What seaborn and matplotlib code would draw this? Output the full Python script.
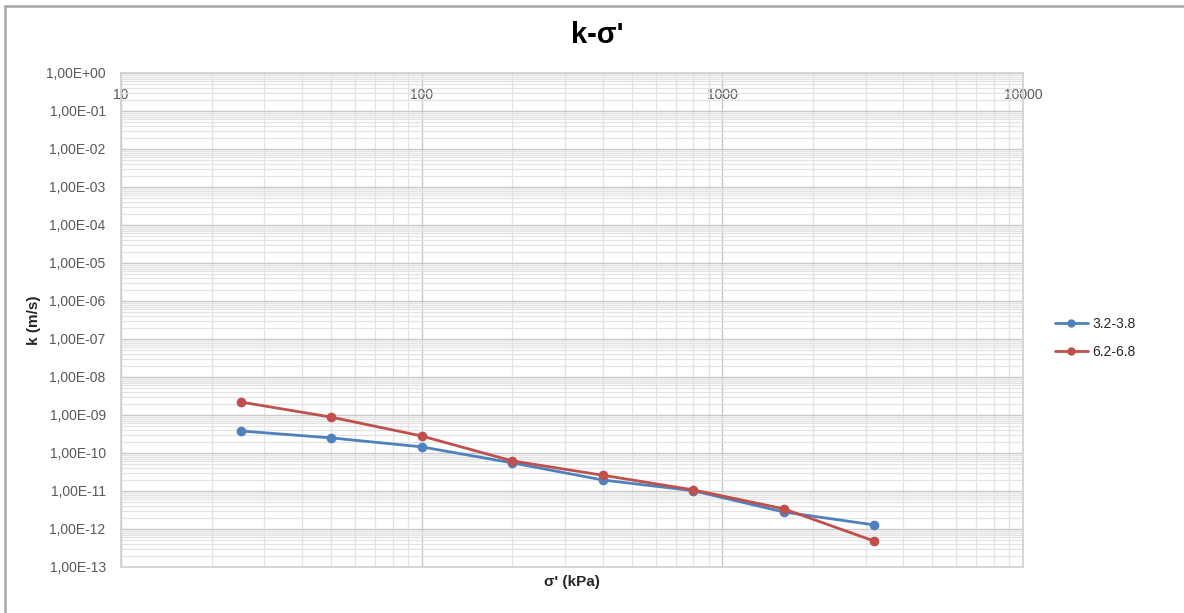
import numpy as np
import pandas as pd
import matplotlib
matplotlib.use("Agg")
import matplotlib.pyplot as plt
import matplotlib.ticker as mticker
from matplotlib.lines import Line2D
import seaborn as sns

# Effective stress (kPa) at each loading step
sigma = [25, 50, 100, 200, 400, 800, 1600, 3200]
# Hydraulic conductivity (m/s) per sample depth
k_32_38 = [3.8e-10, 2.5e-10, 1.45e-10, 5.5e-11, 1.95e-11, 1.02e-11, 2.8e-12, 1.28e-12]
k_62_68 = [2.2e-9, 8.8e-10, 2.8e-10, 6.2e-11, 2.6e-11, 1.07e-11, 3.4e-12, 4.8e-13]
series_names = ["3.2-3.8", "6.2-6.8"]
x_ticks = [10, 100, 1000, 10000]
y_exponents = list(range(0, -14, -1))

df = pd.DataFrame({
    "sigma": sigma * 2,
    "k": k_32_38 + k_62_68,
    "sample": [series_names[0]] * len(sigma) + [series_names[1]] * len(sigma),
})

sns.set_theme(style="white")
plt.rcParams["font.family"] = ["Liberation Sans", "DejaVu Sans"]

fig = plt.figure(figsize=(11.84, 6.13), dpi=100)
ax = fig.add_axes([121 / 1184, 1 - 567 / 613, (1023 - 121) / 1184, (567 - 73) / 613])

palette = {series_names[0]: "#4F81BD", series_names[1]: "#C0504D"}
sns.lineplot(data=df, x="sigma", y="k", hue="sample", palette=palette,
             marker="o", markersize=7, markeredgewidth=0, linewidth=2,
             ax=ax, legend=False, zorder=5)

ax.set_xscale("log")
ax.set_yscale("log")
ax.set_xlim(10, 10000)
ax.set_ylim(1e-13, 1)

# Grid: major decades darker, minor subdivisions lighter
ax.xaxis.set_major_locator(mticker.FixedLocator(x_ticks))
ax.xaxis.set_minor_locator(mticker.LogLocator(base=10, subs=np.arange(2, 10)))
ax.yaxis.set_major_locator(mticker.FixedLocator([10.0 ** e for e in y_exponents]))
ax.yaxis.set_minor_locator(mticker.LogLocator(base=10, subs=np.arange(2, 10), numticks=50))
ax.grid(True, which="major", color="#C8C8C8", linewidth=1.0)
ax.grid(True, which="minor", color="#E3E3E3", linewidth=0.9)
ax.set_axisbelow(True)

ax.xaxis.set_major_formatter(mticker.FuncFormatter(lambda v, p: f"{int(round(v))}"))
ax.xaxis.set_minor_formatter(mticker.NullFormatter())


def sci_label(v, pos):
    e = int(round(np.log10(v)))
    sign = "+" if e >= 0 else "-"
    return f"1,00E{sign}{abs(e):02d}"


ax.yaxis.set_major_formatter(mticker.FuncFormatter(sci_label))
ax.yaxis.set_minor_formatter(mticker.NullFormatter())

ax.tick_params(axis="x", which="both", top=False, bottom=False, labeltop=True,
               labelbottom=False, length=0, pad=-21, labelsize=10, labelcolor="#595959")
ax.tick_params(axis="y", which="both", left=False, length=0, pad=11,
               labelsize=10, labelcolor="#595959")

for sp in ax.spines.values():
    sp.set_visible(True)
    sp.set_color("#D0D0D0")
    sp.set_linewidth(1.2)

ax.set_xlabel("σ' (kPa)", fontsize=11, fontweight="bold", color="#262626", labelpad=6)
ax.set_ylabel("k (m/s)", fontsize=11, fontweight="bold", color="#262626")
ax.yaxis.set_label_coords((41 - 121) / 902, 0.5)
fig.text(597 / 1184, 1 - 35 / 613, "k-σ'", fontsize=21, fontweight="bold",
         ha="center", va="center", color="#000000")

handles = [Line2D([0], [0], color=palette[n], lw=2, marker="o", markersize=6,
                  markeredgewidth=0) for n in series_names]
fig.legend(handles, series_names, loc="center left",
           bbox_to_anchor=(1042 / 1184, 1 - 338 / 613), frameon=False,
           fontsize=10, handlelength=2.4, handletextpad=0.3, labelspacing=1.0,
           labelcolor="#262626")

# Chart frame
fig.add_artist(Line2D([5 / 1184, 5 / 1184], [0, 1 - 6 / 613], color="#A6A6A6",
                      lw=1.8, transform=fig.transFigure))
fig.add_artist(Line2D([5 / 1184, 1], [1 - 6 / 613, 1 - 6 / 613], color="#A6A6A6",
                      lw=1.8, transform=fig.transFigure))

fig.savefig("out.png", dpi=100, facecolor="white")
